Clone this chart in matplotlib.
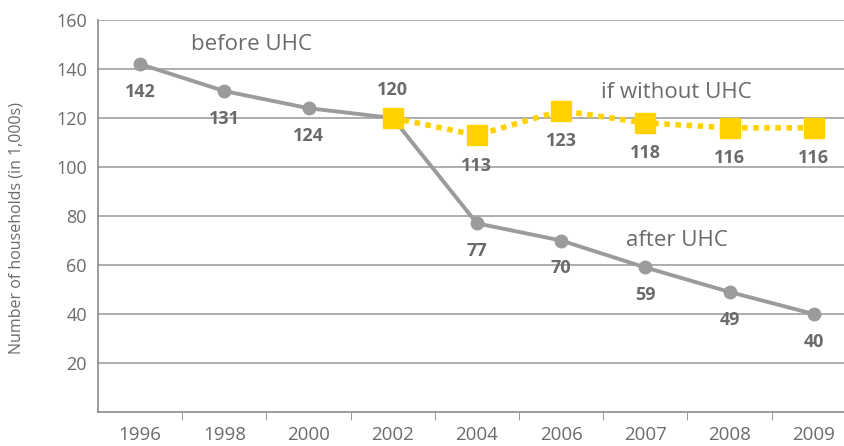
import matplotlib.pyplot as plt

years = ["1996", "1998", "2000", "2002", "2004", "2006", "2007", "2008", "2009"]
after_uhc = [142, 131, 124, 120, 77, 70, 59, 49, 40]
without_uhc = [120, 113, 123, 118, 116, 116]
without_start = 3  # yellow series starts at 2002

plt.rcParams['font.family'] = ['Open Sans', 'DejaVu Sans']

grey = '#9b9b9b'
text_grey = '#6b6b6b'
yellow = '#ffd200'

fig = plt.figure(figsize=(8.44, 4.46), dpi=100)
ax = fig.add_axes([98 / 844, 34 / 446, 746 / 844, 392 / 446])

x_all = list(range(len(years)))
x_wo = x_all[without_start:]

ax.plot(x_all, after_uhc, color=grey, lw=2.8, marker='o', ms=9, zorder=3)
ax.plot(x_wo, without_uhc, color=yellow, lw=4, ls=(0, (1, 1)), marker='s',
        ms=14, zorder=4)

# data labels
lbl = dict(ha='center', va='center', fontsize=13, fontweight='bold',
           color=text_grey, textcoords='offset points')
for i, v in enumerate(after_uhc):
    if i == without_start:
        continue
    ax.annotate(str(v), (i, v), xytext=(0, -20), **lbl)
for i, v in zip(x_wo, without_uhc):
    dy = 20 if i == without_start else -22
    ax.annotate(str(v), (i, v), xytext=(0, dy), **lbl)

ax.text(1.32, 150, "before UHC", fontsize=16, color=text_grey, ha='center', va='center')
ax.text(6.37, 130.6, "if without UHC", fontsize=16, color=text_grey, ha='center', va='center')
ax.text(6.37, 69.8, "after UHC", fontsize=16, color=text_grey, ha='center', va='center')

ax.set_xlim(-0.5, -0.5 + 746 / 84.2)
ax.set_ylim(0, 160)
ax.set_yticks(range(20, 161, 20))
ax.yaxis.grid(True, color='#a0a0a0', lw=1.2)
ax.set_axisbelow(True)

ax.set_xticks(x_all)
ax.set_xticklabels(years)
ax.set_xticks([i + 0.5 for i in x_all[:-1]], minor=True)
ax.tick_params(axis='x', which='major', length=0, pad=10, labelsize=13.5, labelcolor=text_grey)
ax.tick_params(axis='x', which='minor', length=6, color='#8a8a8a', direction='out')
ax.tick_params(axis='y', length=0, pad=8, labelsize=13, labelcolor=text_grey)

for s in ['top', 'right']:
    ax.spines[s].set_visible(False)
for s in ['left', 'bottom']:
    ax.spines[s].set_color('#8a8a8a')
    ax.spines[s].set_linewidth(1.2)

ax.set_ylabel("Number of households (in 1,000s)", fontsize=11.5, color=text_grey)
ax.yaxis.set_label_coords(-0.098, 0.47)

fig.savefig("out.png", dpi=100)
